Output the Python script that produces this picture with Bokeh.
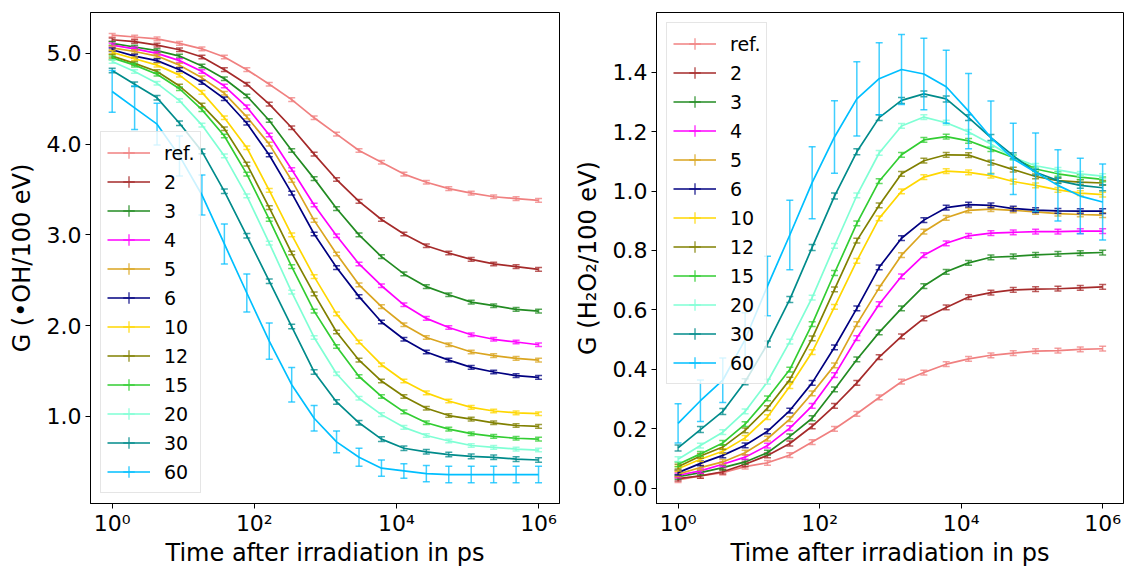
import numpy as np
from bokeh.plotting import figure
from bokeh.models import (ColumnDataSource, Range1d, FixedTicker, CustomJSTickFormatter,
                          PrintfTickFormatter, Legend, LegendItem)
from bokeh.layouts import row
from bokeh.embed import file_html
from bokeh.resources import INLINE

# ---------------- data ----------------
time_ps = [1.0, 2.069, 4.281, 8.859, 18.33, 37.93, 78.48, 162.4, 336.0, 695.2,
           1438.0, 2976.0, 6158.0, 12743.0, 26367.0, 54556.0, 112884.0, 233572.0,
           483293.0, 1000000.0]

labels = ["ref.", "2", "3", "4", "5", "6", "10", "12", "15", "20", "30", "60"]
colors = ["#F08080", "#A52A2A", "#228B22", "#FF00FF", "#DAA520", "#000080",
          "#FFD700", "#808000", "#32CD32", "#7FFFD4", "#008B8B", "#00BFFF"]

# G(OH) per 100 eV
oh_ref = [5.20, 5.18, 5.16, 5.11, 5.05, 4.96, 4.82, 4.66, 4.49, 4.29, 4.11, 3.93, 3.80, 3.67, 3.58, 3.51, 3.46, 3.42, 3.40, 3.38]
oh_2 = [5.15, 5.13, 5.09, 5.04, 4.96, 4.82, 4.66, 4.44, 4.18, 3.89, 3.61, 3.37, 3.17, 3.01, 2.88, 2.80, 2.73, 2.68, 2.65, 2.62]
oh_3 = [5.11, 5.07, 5.03, 4.97, 4.86, 4.72, 4.53, 4.26, 3.93, 3.62, 3.29, 3.00, 2.76, 2.57, 2.43, 2.34, 2.26, 2.22, 2.18, 2.16]
oh_4 = [5.09, 5.05, 5.00, 4.92, 4.80, 4.64, 4.41, 4.10, 3.72, 3.33, 2.99, 2.68, 2.44, 2.23, 2.08, 1.98, 1.90, 1.85, 1.82, 1.79]
oh_5 = [5.06, 5.02, 4.97, 4.87, 4.73, 4.56, 4.30, 4.00, 3.60, 3.16, 2.79, 2.45, 2.21, 2.01, 1.87, 1.79, 1.71, 1.67, 1.64, 1.62]
oh_6 = [5.04, 4.97, 4.92, 4.82, 4.68, 4.50, 4.23, 3.88, 3.46, 3.01, 2.64, 2.32, 2.04, 1.85, 1.71, 1.62, 1.54, 1.49, 1.45, 1.43]
oh_10 = [5.01, 4.94, 4.87, 4.76, 4.57, 4.29, 3.96, 3.49, 3.00, 2.54, 2.13, 1.82, 1.57, 1.39, 1.26, 1.17, 1.10, 1.06, 1.04, 1.03]
oh_12 = [4.97, 4.89, 4.80, 4.64, 4.43, 4.17, 3.78, 3.30, 2.80, 2.35, 1.93, 1.62, 1.39, 1.22, 1.09, 1.01, 0.97, 0.93, 0.90, 0.89]
oh_15 = [4.95, 4.87, 4.77, 4.61, 4.38, 4.09, 3.67, 3.17, 2.65, 2.16, 1.77, 1.44, 1.22, 1.05, 0.93, 0.86, 0.81, 0.78, 0.76, 0.75]
oh_20 = [4.91, 4.80, 4.67, 4.48, 4.21, 3.87, 3.43, 2.91, 2.37, 1.87, 1.47, 1.20, 1.02, 0.88, 0.79, 0.73, 0.68, 0.66, 0.64, 0.63]
oh_30 = [4.81, 4.66, 4.51, 4.23, 3.92, 3.48, 2.99, 2.49, 1.99, 1.49, 1.16, 0.93, 0.75, 0.65, 0.61, 0.58, 0.56, 0.55, 0.53, 0.52]
oh_60 = [4.58, 4.40, 4.22, 3.87, 3.44, 2.90, 2.36, 1.83, 1.35, 0.98, 0.72, 0.55, 0.43, 0.40, 0.37, 0.36, 0.36, 0.36, 0.36, 0.36]
oh_err_60 = [0.23, 0.24, 0.23, 0.22, 0.22, 0.22, 0.21, 0.20, 0.19, 0.14, 0.12, 0.10, 0.09, 0.08, 0.09, 0.09, 0.09, 0.09, 0.09, 0.09]
oh_err_small = [0.02, 0.02, 0.02, 0.02, 0.02, 0.02, 0.02, 0.02, 0.02, 0.02, 0.025]

# G(H2O2) per 100 eV
h2o2_ref = [0.027, 0.041, 0.052, 0.072, 0.085, 0.111, 0.155, 0.199, 0.250, 0.305, 0.358, 0.389, 0.417, 0.435, 0.447, 0.454, 0.461, 0.463, 0.467, 0.469]
h2o2_2 = [0.032, 0.041, 0.055, 0.080, 0.110, 0.150, 0.208, 0.277, 0.354, 0.441, 0.511, 0.571, 0.608, 0.643, 0.658, 0.667, 0.670, 0.671, 0.674, 0.677]
h2o2_3 = [0.038, 0.052, 0.069, 0.088, 0.119, 0.174, 0.235, 0.332, 0.433, 0.524, 0.605, 0.680, 0.728, 0.758, 0.777, 0.780, 0.785, 0.788, 0.791, 0.793]
h2o2_4 = [0.043, 0.058, 0.080, 0.104, 0.143, 0.202, 0.277, 0.380, 0.505, 0.619, 0.713, 0.784, 0.824, 0.849, 0.858, 0.861, 0.863, 0.863, 0.865, 0.865]
h2o2_5 = [0.047, 0.069, 0.088, 0.119, 0.166, 0.232, 0.319, 0.413, 0.552, 0.674, 0.784, 0.863, 0.910, 0.935, 0.939, 0.935, 0.930, 0.924, 0.921, 0.919]
h2o2_6 = [0.052, 0.083, 0.110, 0.144, 0.191, 0.261, 0.354, 0.474, 0.605, 0.743, 0.841, 0.902, 0.944, 0.954, 0.952, 0.941, 0.936, 0.933, 0.932, 0.932]
h2o2_10 = [0.065, 0.097, 0.124, 0.169, 0.239, 0.343, 0.458, 0.610, 0.765, 0.908, 0.999, 1.047, 1.067, 1.063, 1.052, 1.032, 1.019, 1.004, 0.993, 0.988]
h2o2_12 = [0.072, 0.108, 0.138, 0.194, 0.269, 0.365, 0.504, 0.669, 0.833, 0.952, 1.058, 1.102, 1.122, 1.121, 1.096, 1.072, 1.049, 1.035, 1.030, 1.027]
h2o2_15 = [0.080, 0.115, 0.152, 0.215, 0.302, 0.399, 0.552, 0.724, 0.891, 1.033, 1.122, 1.172, 1.183, 1.169, 1.141, 1.113, 1.074, 1.058, 1.047, 1.039]
h2o2_20 = [0.097, 0.143, 0.188, 0.258, 0.358, 0.493, 0.641, 0.815, 0.985, 1.128, 1.219, 1.249, 1.230, 1.199, 1.158, 1.113, 1.085, 1.071, 1.058, 1.050]
h2o2_30 = [0.135, 0.197, 0.258, 0.358, 0.485, 0.635, 0.810, 0.983, 1.132, 1.247, 1.305, 1.327, 1.310, 1.247, 1.180, 1.119, 1.063, 1.035, 1.019, 1.011]
h2o2_60 = [0.218, 0.294, 0.363, 0.500, 0.680, 0.852, 1.028, 1.182, 1.310, 1.378, 1.409, 1.394, 1.351, 1.269, 1.180, 1.108, 1.063, 1.019, 0.983, 0.963]
h2o2_err_60 = [0.066, 0.070, 0.075, 0.090, 0.100, 0.117, 0.121, 0.122, 0.125, 0.121, 0.118, 0.120, 0.123, 0.127, 0.123, 0.120, 0.132, 0.120, 0.127, 0.128]
h2o2_err_small = [0.008, 0.008, 0.008, 0.008, 0.008, 0.008, 0.008, 0.008, 0.008, 0.008, 0.010]

oh_series = [oh_ref, oh_2, oh_3, oh_4, oh_5, oh_6, oh_10, oh_12, oh_15, oh_20, oh_30, oh_60]
h2o2_series = [h2o2_ref, h2o2_2, h2o2_3, h2o2_4, h2o2_5, h2o2_6, h2o2_10, h2o2_12, h2o2_15, h2o2_20, h2o2_30, h2o2_60]
oh_errors = [[e] * len(time_ps) for e in oh_err_small] + [oh_err_60]
h2o2_errors = [[e] * len(time_ps) for e in h2o2_err_small] + [h2o2_err_60]

FONT = "DejaVu Sans"
SUP = {"0": "\u2070", "1": "\u00b9", "2": "\u00b2", "3": "\u00b3", "4": "\u2074", "5": "\u2075", "6": "\u2076"}


def make_panel(series, errors, ylabel, yrange, yticks, bl, br, legend_loc):
    p = figure(width=563, height=569, x_axis_type="log",
               x_range=Range1d(10 ** -0.305, 10 ** 6.295), y_range=Range1d(*yrange),
               output_backend="svg", toolbar_location=None,
               min_border_left=bl, min_border_right=br, min_border_top=12, min_border_bottom=61)
    p.background_fill_color = "white"
    p.border_fill_color = "white"
    p.outline_line_color = "black"
    p.outline_line_alpha = 1.0
    p.outline_line_width = 1
    p.grid.visible = False

    items = []
    for lab, col, y, e in zip(labels, colors, series, errors):
        y = np.array(y)
        e = np.array(e)
        src = ColumnDataSource(dict(x=time_ps, y=y, lo=y - e, hi=y + e))
        ln = p.line("x", "y", source=src, line_color=col, line_width=1.7)
        p.segment("x", "lo", "x", "hi", source=src, line_color=col, line_width=1.5, line_alpha=0.75)
        p.scatter("x", "lo", source=src, marker="dash", size=7, line_color=col, line_width=1.5, line_alpha=0.75)
        p.scatter("x", "hi", source=src, marker="dash", size=7, line_color=col, line_width=1.5, line_alpha=0.75)
        lg = p.scatter("x", "y", source=src, marker="cross", size=0, line_color=col,
                       line_width=1.5, line_alpha=0.75)
        items.append(LegendItem(label=lab, renderers=[ln, lg]))

    legend = Legend(items=items, location=legend_loc, margin=10, padding=6, spacing=0,
                    glyph_width=43, glyph_height=29, label_standoff=14,
                    label_text_font=FONT, label_text_font_size="19px", label_text_color="black",
                    border_line_color="#cccccc", border_line_width=1,
                    background_fill_color="white", background_fill_alpha=0.8)
    p.add_layout(legend)

    p.xaxis.ticker = FixedTicker(ticks=[1, 100, 10000, 1000000])
    p.xaxis.formatter = CustomJSTickFormatter(args=dict(sup=SUP), code="""
        const e = Math.round(Math.log10(tick));
        return "10" + sup[String(e)];
    """)
    p.yaxis.ticker = FixedTicker(ticks=yticks)
    p.yaxis.formatter = PrintfTickFormatter(format="%.1f")

    p.xaxis.axis_label = "Time after irradiation in ps"
    p.yaxis.axis_label = ylabel
    for ax in (p.xaxis, p.yaxis):
        ax.axis_label_text_font = FONT
        ax.axis_label_text_font_size = "24px"
        ax.axis_label_text_font_style = "normal"
        ax.axis_label_text_color = "black"
        ax.major_label_text_font = FONT
        ax.major_label_text_font_size = "22px"
        ax.major_label_text_color = "black"
        ax.axis_line_color = "black"
        ax.major_tick_line_color = "black"
        ax.major_tick_out = 5
        ax.major_tick_in = 0
        ax.minor_tick_line_color = None
    p.xaxis.major_label_standoff = 2
    p.xaxis.axis_label_standoff = 0
    p.yaxis.major_label_standoff = 4
    p.yaxis.axis_label_standoff = 8
    return p


left = make_panel(oh_series, oh_errors, "G (\u2022OH/100 eV)", (0.041, 5.45),
                  [1.0, 2.0, 3.0, 4.0, 5.0], 90, 4, "bottom_left")
right = make_panel(h2o2_series, h2o2_errors, "G (H\u2082O\u2082/100 eV)", (-0.052, 1.601),
                   [0.0, 0.2, 0.4, 0.6, 0.8, 1.0, 1.2, 1.4], 93, 3, "top_left")

layout = row(left, right)
open("out.html", "w").write(file_html(layout, INLINE))
